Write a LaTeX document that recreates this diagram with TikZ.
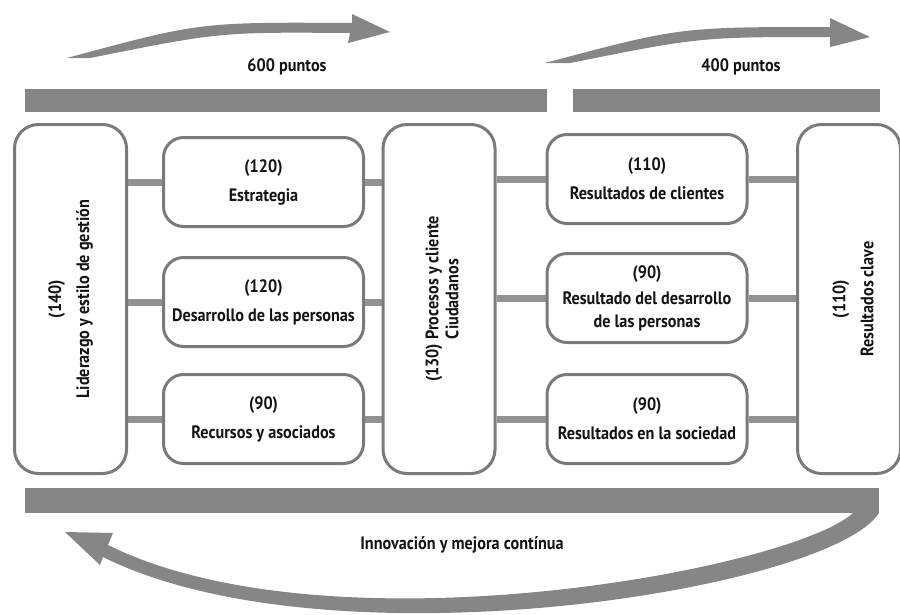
\documentclass[tikz,border=0pt]{standalone}
\usepackage{fontspec}
\setmainfont{PT Sans}[FakeStretch=0.9]
\usetikzlibrary{backgrounds}
\definecolor{barGray}{RGB}{134,134,134}
\definecolor{edgeGray}{RGB}{122,122,122}
\definecolor{linkGray}{RGB}{146,146,146}
\definecolor{inkBlack}{RGB}{20,20,20}
\newcommand{\lblfont}{\fontsize{18}{23}\selectfont\bfseries}

\begin{document}
\begin{tikzpicture}[x=1pt,y=-1pt,
  box/.style={draw=edgeGray, line width=3pt, fill=white, rounded corners=20pt,
    inner sep=0pt, minimum width=200pt, minimum height=89pt,
    align=center, font=\lblfont, text=inkBlack},
  tallbox/.style={draw=edgeGray, line width=3pt, fill=white, rounded corners=24pt,
    inner sep=0pt, minimum height=349pt},
  vtext/.style={rotate=90, align=center, font=\lblfont, text=inkBlack, inner sep=0pt},
  caption/.style={font=\lblfont, text=inkBlack, inner sep=0pt},
  link/.style={draw=linkGray, line width=7pt},
  band/.style={fill=barGray}]

\useasboundingbox (0,0) rectangle (900,614);

% three tall columns
\node[tallbox, minimum width=112pt] (lead) at (70.5,299) {};
\node[tallbox, minimum width=112pt] (proc) at (439,299) {};
\node[tallbox, minimum width=103pt] (key) at (849,299) {};

% enablers
\node[box] (est) at (263.5,182) {(120)\\[6pt]Estrategia};
\node[box] (per) at (263.5,302) {(120)\\[6pt]Desarrollo de las personas};
\node[box] (rec) at (263.5,419) {(90)\\[6pt]Recursos y asociados};

% results
\node[box] (cli) at (647,179) {(110)\\[6pt]Resultados de clientes};
\node[box] (dpe) at (647,298) {(90)\\[3pt]Resultado del desarrollo\\de las personas};
\node[box] (soc) at (647,419) {(90)\\[6pt]Resultados en la sociedad};

% rotated titles of the tall columns
\node[vtext] (leadtxt) at (lead.center) {(140)\\[5pt]Liderazgo y estilo de gestión};
\node[vtext] (proctxt) at ([xshift=3pt]proc.center) {(130) Procesos y cliente\\[-3pt]Ciudadanos};
\node[vtext] (keytxt) at ([xshift=4pt]key.center) {(110)\\[5pt]Resultados clave};

% connectors behind the boxes
\begin{pgfonlayer}{background}
  \foreach \l/\r in {est/cli, per/dpe, rec/soc}{
    \draw[link] (lead.east |- \l.west) -- (\l.west);
    \draw[link] (\l.east) -- (proc.west |- \l.east);
    \draw[link] (proc.east |- \r.west) -- (\r.west);
    \draw[link] (\r.east) -- (key.west |- \r.east);
  }
\end{pgfonlayer}

% horizontal bands
\fill[band] (25,89) rectangle (547,112);
\fill[band] (573,89) rectangle (880,112);

% curved arrows above the bands
\fill[band] (67,58) .. controls (200,22) .. (352,23) -- (352,14) -- (390,32)
  -- (348,43) -- (350,33) .. controls (220,32) .. (90,58) -- cycle;
\fill[band] (545,63) .. controls (680,27) .. (830,27) -- (830,18) -- (870,37)
  -- (830,47) -- (830,37) .. controls (700,37) .. (570,63) -- cycle;

% return arrow below
\fill[band] (879,513) .. controls (830,590) and (330,670) .. (103,557)
  -- (100,565) -- (65,532) -- (113,533) -- (108,545)
  .. controls (330,655) and (790,570) .. (853,513) -- cycle;
\fill[band] (25,488) rectangle (879,513);

% captions
\node[caption] (top1) at (287,67) {600 puntos};
\node[caption] (top2) at (741,67) {400 puntos};
\node[caption] (bottom) at (462,545) {Innovación y mejora contínua};
\end{tikzpicture}
\end{document}
